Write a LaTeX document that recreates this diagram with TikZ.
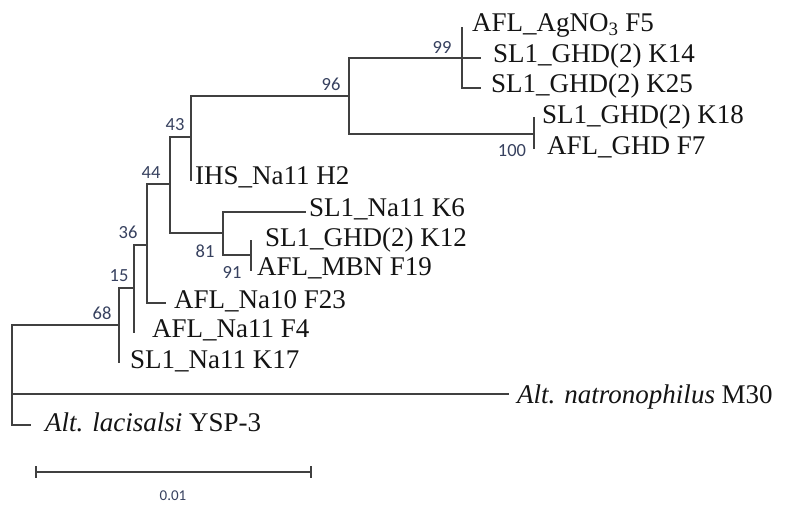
\documentclass[tikz,border=0pt]{standalone}
\usepackage{fontspec}
\setmainfont{Liberation Serif}
\newfontfamily\bsfont{Carlito}
\definecolor{branch}{RGB}{64,64,64}
\definecolor{bscol}{RGB}{55,65,95}
\definecolor{txt}{RGB}{20,20,20}
\begin{document}
\begin{tikzpicture}[x=1pt,y=-1pt,
  br/.style={draw=branch,line width=1.3pt,line cap=rect},
  leaf/.style={anchor=base west,inner sep=0pt,text=txt,font=\fontsize{27}{28}\selectfont},
  boot/.style={inner sep=0pt,text=bscol,font=\bsfont\fontsize{18.5}{19}\selectfont}]
\useasboundingbox (0,0) rectangle (785,508);
\fill[white] (0,0) rectangle (785,508);
% internal nodes
\coordinate (nroot) at (12,375);
\coordinate (n68) at (119,325);
\coordinate (n15) at (134,288);
\coordinate (n36) at (147,245);
\coordinate (n44) at (170,184);
\coordinate (n43) at (191,137);
\coordinate (n96) at (349,96);
\coordinate (n99) at (462,58);
\coordinate (n100) at (534,134);
\coordinate (n81) at (223,233);
\coordinate (n91) at (251,255);
% tips
\coordinate (tF5) at (462,28);
\coordinate (tK14) at (480,58);
\coordinate (tK25) at (480,88);
\coordinate (tK18) at (534,118);
\coordinate (tF7) at (534,148);
\coordinate (tH2) at (191,180);
\coordinate (tK6) at (305,212);
\coordinate (tK12) at (251,241);
\coordinate (tF19) at (251,270);
\coordinate (tF23) at (165,303);
\coordinate (tF4) at (134,332);
\coordinate (tK17) at (119,362);
\coordinate (tM30) at (508,394);
\coordinate (tYSP) at (30,425);
% root
\draw[br] (nroot|-n68) -- (nroot|-tYSP);
\draw[draw=branch,line width=2.6pt] (12,358) -- (12,392);
\draw[br] (nroot|-n68) -- (n68);
\draw[br] (nroot|-tM30) -- (tM30);
\draw[br] (nroot|-tYSP) -- (tYSP);
% 68
\draw[br] (n68|-n15) -- (n68|-tK17);
\draw[br] (n68|-n15) -- (n15);
% 15
\draw[br] (n15|-n36) -- (n15|-tF4);
\draw[br] (n15|-n36) -- (n36);
% 36
\draw[br] (n36|-n44) -- (n36|-tF23);
\draw[br] (n36|-n44) -- (n44);
\draw[br] (n36|-tF23) -- (tF23);
% 44
\draw[br] (n44|-n43) -- (n44|-n81);
\draw[br] (n44|-n43) -- (n43);
\draw[br] (n44|-n81) -- (n81);
% 43
\draw[br] (n43|-n96) -- (n43|-tH2);
\draw[br] (n43|-n96) -- (n96);
% 96
\draw[br] (n96|-n99) -- (n96|-n100);
\draw[br] (n96|-n99) -- (n99);
\draw[br] (n96|-n100) -- (n100);
% 99
\draw[br] (n99|-tF5) -- (n99|-tK25);
\draw[br] (n99) -- (tK14);
\draw[br] (n99|-tK25) -- (tK25);
% 100
\draw[br] (n100|-tK18) -- (n100|-tF7);
% 81
\draw[br] (n81|-tK6) -- (n81|-n91);
\draw[br] (n81|-tK6) -- (tK6);
\draw[br] (n81|-n91) -- (n91);
% 91
\draw[br] (n91|-tK12) -- (n91|-tF19);
% leaf labels
\node[leaf] (lF5) at (472,32) {AFL\_AgNO\textsubscript{3} F5};
\node[leaf] (lK14) at (493,63) {SL1\_GHD(2) K14};
\node[leaf] (lK25) at (491,93) {SL1\_GHD(2) K25};
\node[leaf] (lK18) at (542,124) {SL1\_GHD(2) K18};
\node[leaf] (lF7) at (547,155) {AFL\_GHD F7};
\node[leaf] (lH2) at (195,185) {IHS\_Na11 H2};
\node[leaf] (lK6) at (309,217) {SL1\_Na11 K6};
\node[leaf] (lK12) at (265,246) {SL1\_GHD(2) K12};
\node[leaf] (lF19) at (257,275) {AFL\_MBN F19};
\node[leaf] (lF23) at (174,308) {AFL\_Na10 F23};
\node[leaf] (lF4) at (152,337) {AFL\_Na11 F4};
\node[leaf] (lK17) at (130,368) {SL1\_Na11 K17};
\node[leaf] (lM30) at (517,403) {\textit{Alt. natronophilus} M30};
\node[leaf] (lYSP) at (45,431) {\textit{Alt. lacisalsi} YSP-3};
% bootstrap values
\node[boot] (b99) at (442,47) {99};
\node[boot] (b100) at (512,151) {100};
\node[boot] (b96) at (331,84) {96};
\node[boot] (b43) at (175,125) {43};
\node[boot] (b44) at (151,173) {44};
\node[boot] (b36) at (128,232) {36};
\node[boot] (b15) at (119,276) {15};
\node[boot] (b68) at (102,313) {68};
\node[boot] (b81) at (205,251) {81};
\node[boot] (b91) at (232,272) {91};
% scale bar
\coordinate (sbL) at (36,472);
\coordinate (sbR) at (311,472);
\draw[br] (sbL) -- (sbR);
\draw[br] ([yshift=-5pt]sbL) -- ([yshift=5pt]sbL);
\draw[br] ([yshift=-5pt]sbR) -- ([yshift=5pt]sbR);
\node[boot,font=\bsfont\fontsize{15}{16}\selectfont] (sbT) at (173,496) {0.01};
\end{tikzpicture}
\end{document}
